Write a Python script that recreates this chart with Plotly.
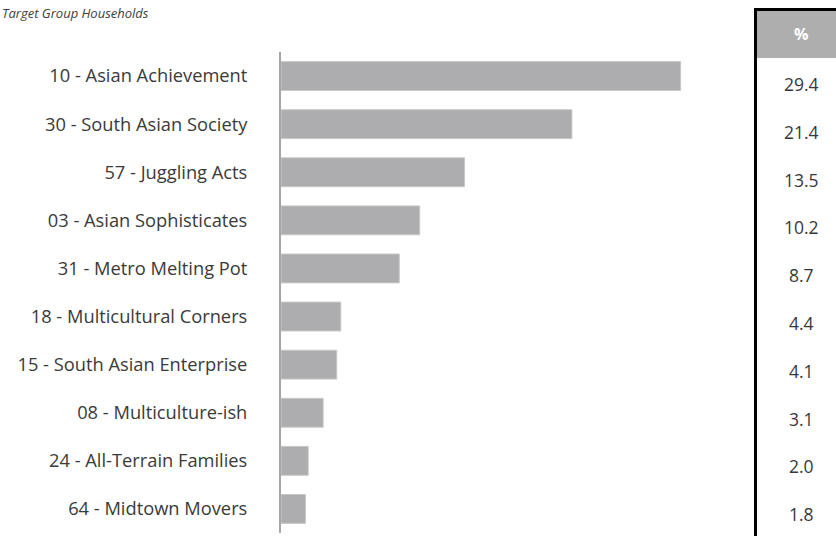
import plotly.graph_objects as go

categories = [
    "10 - Asian Achievement",
    "30 - South Asian Society",
    "57 - Juggling Acts",
    "03 - Asian Sophisticates",
    "31 - Metro Melting Pot",
    "18 - Multicultural Corners",
    "15 - South Asian Enterprise",
    "08 - Multiculture-ish",
    "24 - All-Terrain Families",
    "64 - Midtown Movers",
]
values = [29.4, 21.4, 13.5, 10.2, 8.7, 4.4, 4.1, 3.1, 2.0, 1.8]
title_text = "Target Group Households"
table_header = "%"

W, H = 836, 536
L = 281
plot_w = W - L
plot_h = H
FONT = "Open Sans, Lato, sans-serif"

def px_x(x):
    return (x - L) / plot_w

def px_y(y):
    return (H - y) / plot_h

fig = go.Figure()
fig.add_trace(go.Bar(
    x=values, y=categories, orientation="h",
    marker=dict(color="#ADADAF", line=dict(color="#C8C8C8", width=1)),
    width=0.6, hoverinfo="x+y",
))

# table: header fill, borders, texts
fig.add_shape(type="rect", xref="paper", yref="paper", x0=px_x(757), x1=1.0,
              y0=px_y(58), y1=px_y(11), fillcolor="#AEAEAE", line=dict(width=0), layer="below")
fig.add_shape(type="line", xref="paper", yref="paper", x0=px_x(755.5), x1=px_x(755.5),
              y0=px_y(9), y1=px_y(540), line=dict(color="black", width=3))
fig.add_shape(type="line", xref="paper", yref="paper", x0=px_x(754), x1=1.01,
              y0=px_y(9.5), y1=px_y(9.5), line=dict(color="black", width=3))

fig.add_annotation(text="<b>%s</b>" % table_header, xref="paper", yref="paper",
                   x=px_x(801), y=px_y(34), xanchor="center", yanchor="middle",
                   showarrow=False, font=dict(family=FONT, size=16, color="white"))
for i, v in enumerate(values):
    fig.add_annotation(text="%.1f" % v, xref="paper", yref="paper",
                       x=px_x(801), y=px_y(84 + 47.8 * i), xanchor="center", yanchor="middle",
                       showarrow=False, font=dict(family=FONT, size=17.5, color="#383838"))

fig.add_annotation(text="<i>%s</i>" % title_text, xref="paper", yref="paper",
                   x=px_x(151), y=px_y(13), xanchor="right", yanchor="middle",
                   showarrow=False,
                   font=dict(family=FONT, size=13, color="#404040"))

fig.update_layout(
    width=W, height=H,
    margin=dict(l=L, r=0, t=0, b=0, pad=0, autoexpand=False),
    paper_bgcolor="white", plot_bgcolor="white",
    showlegend=False,
    bargap=0.4,
    xaxis=dict(domain=[0, 435 / plot_w], range=[0, 32], visible=False, fixedrange=True),
    yaxis=dict(domain=[px_y(533), px_y(52)], autorange="reversed", showgrid=False, zeroline=False,
               showline=True, linecolor="#A6A6A6", linewidth=2,
               ticks="outside", ticklen=28, tickcolor="rgba(0,0,0,0)",
               tickfont=dict(family=FONT, size=18.3, color="#3A3A3A")),
)

fig.write_html("out.html")
